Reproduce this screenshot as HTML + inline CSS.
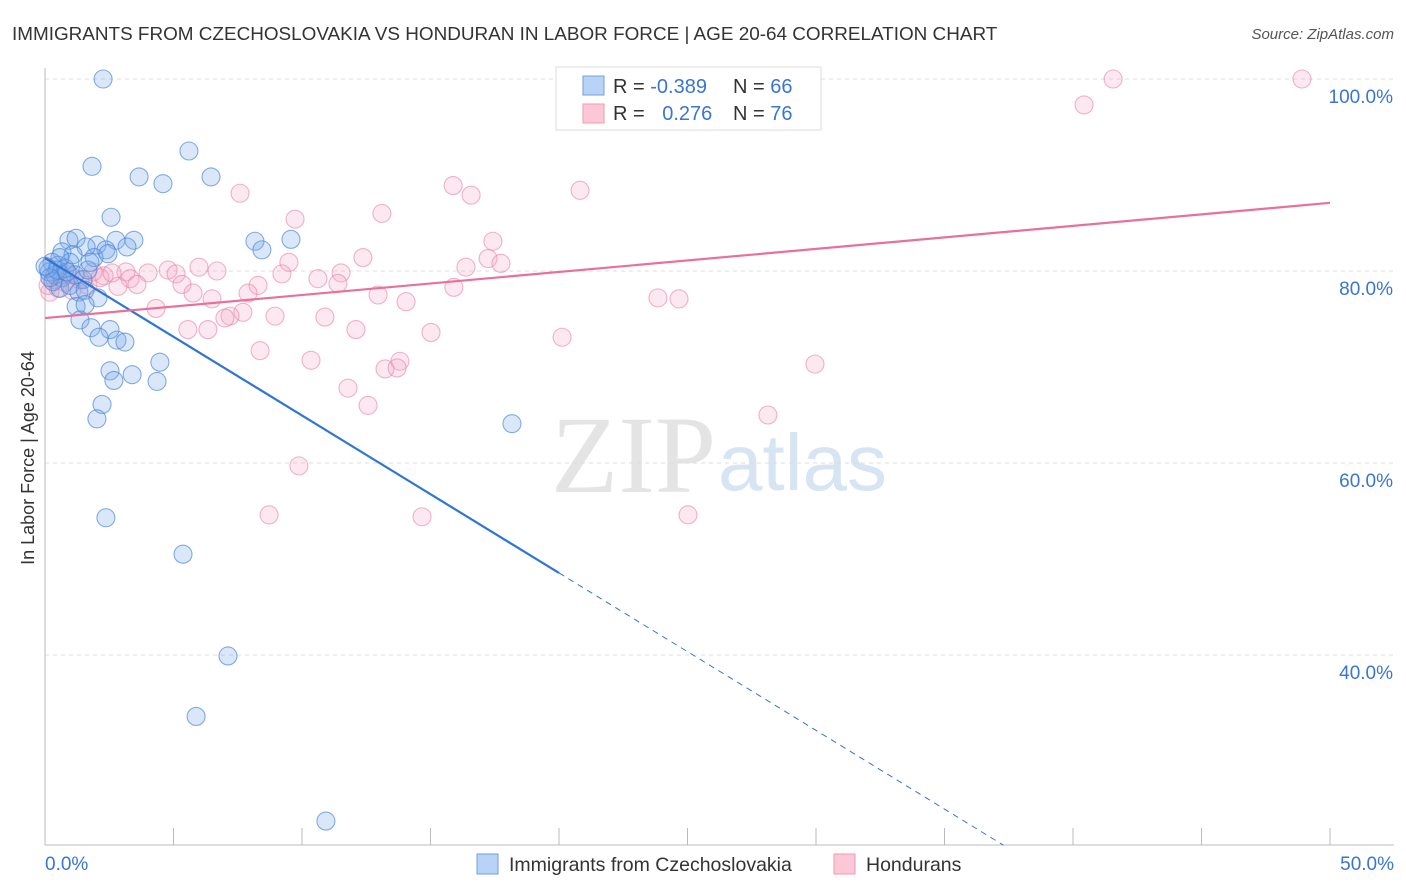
<!DOCTYPE html>
<html><head><meta charset="utf-8"><style>
body{margin:0;background:#fff;font-family:"Liberation Sans",sans-serif;}
svg{display:block}
</style></head><body>
<svg id="chart" width="1406" height="892">
<text x="12" y="40" font-size="18.9" fill="#333">IMMIGRANTS FROM CZECHOSLOVAKIA VS HONDURAN IN LABOR FORCE | AGE 20-64 CORRELATION CHART</text>
<text x="1394" y="39" font-size="15" fill="#555" font-style="italic" text-anchor="end">Source: ZipAtlas.com</text>
<text x="716" y="492" font-size="110" fill="#e4e4e4" text-anchor="end" font-family="Liberation Serif,serif">ZIP</text>
<text x="718" y="490" font-size="80" fill="#d6e4f4">atlas</text>
<text transform="translate(34,458) rotate(-90)" font-size="18" fill="#333" text-anchor="middle">In Labor Force | Age 20-64</text>
<g id="grid"></g><g id="axes"></g><g id="pts"></g><g id="lines"></g>
<g>
<rect x="556" y="67" width="265" height="63" fill="#fff" stroke="#ddd"/>
<rect x="583" y="76" width="21" height="19" fill="#b8d3f5" stroke="#6fa0e0"/>
<rect x="583" y="104" width="21" height="19" fill="#fcc8d8" stroke="#ee9ab5"/>
<text x="613" y="93" font-size="20" fill="#333">R = <tspan fill="#3a75d0">-0.389</tspan></text>
<text x="733" y="93" font-size="20" fill="#333">N = <tspan fill="#3a75d0">66</tspan></text>
<text x="613" y="120" font-size="20" fill="#333">R = <tspan fill="#3a75d0" dx="12">0.276</tspan></text>
<text x="733" y="120" font-size="20" fill="#333">N = <tspan fill="#3a75d0">76</tspan></text>
</g>
<g>
<rect x="477" y="854" width="21" height="20" fill="#b8d3f5" stroke="#6fa0e0"/>
<text x="509" y="871" font-size="19.5" fill="#333">Immigrants from Czechoslovakia</text>
<rect x="834" y="854" width="21" height="20" fill="#fcc8d8" stroke="#ee9ab5"/>
<text x="866" y="871" font-size="19.5" fill="#333">Hondurans</text>
</g>
</svg>
<script>
const xTicks=[0,5,10,15,20,25,30,35,40,45,50];
const yTicks=[40,60,80,100];
const blueX=[2.26,1.83,3.66,4.59,5.60,6.46,2.57,8.17,9.57,8.44,0.93,1.21,2.02,2.76,3.46,3.19,2.37,1.60,0.66,1.09,1.91,2.45,0.27,0.51,0.78,0.97,0.16,0.39,0.66,1.17,1.48,1.67,0.31,0.58,0.97,1.32,1.56,2.06,1.21,1.56,1.36,1.79,2.53,2.10,2.80,3.11,4.47,2.53,2.68,3.39,4.36,2.22,2.02,18.17,2.37,5.37,7.12,5.88,10.93,0.12,0.47,0.86,0.19,0.0,1.75,0.58];
const blueY=[100.0,90.9,89.8,89.1,92.5,89.8,85.6,83.1,83.3,82.2,83.2,83.4,82.7,83.2,83.2,82.5,82.2,82.5,82.0,81.7,81.4,81.8,80.9,80.6,80.3,80.9,79.9,79.6,79.3,79.6,79.1,80.1,78.9,78.2,78.5,77.8,78.0,77.2,76.3,76.5,74.9,74.1,73.9,73.1,72.8,72.6,70.5,69.6,68.6,69.2,68.5,66.1,64.6,64.1,54.3,50.5,39.9,33.6,22.7,80.3,80.1,79.9,79.3,80.5,80.9,81.4];
const pinkX=[41.56,48.91,40.43,27.43,15.88,16.58,20.82,7.59,13.11,9.73,17.43,12.37,17.24,17.74,16.38,9.49,11.52,10.62,9.22,5.99,6.69,4.79,5.10,4.01,3.15,3.31,2.30,1.87,2.84,3.58,8.29,5.33,11.40,15.91,12.96,5.76,7.90,6.50,14.05,23.85,24.67,4.32,7.70,8.95,7.20,7.00,10.89,6.34,5.56,12.10,15.02,20.12,8.37,10.35,13.81,13.23,13.70,29.96,11.79,12.57,28.13,9.88,8.72,14.67,25.02,0.19,0.51,0.78,1.05,1.36,0.66,0.12,0.97,0.39,1.67,2.14,2.61];
const pinkY=[100.0,100.0,97.3,98.1,88.9,87.9,88.4,88.1,86.0,85.4,83.1,81.4,81.3,80.8,80.4,80.9,79.8,79.2,79.7,80.4,80.0,80.1,79.7,79.8,79.9,79.2,79.5,79.9,78.4,78.6,78.5,78.6,78.7,78.3,77.5,77.7,77.7,77.1,76.8,77.2,77.1,76.1,75.7,75.3,75.3,75.1,75.2,73.9,73.9,73.9,73.6,73.1,71.7,70.7,70.6,69.8,69.9,70.3,67.8,66.0,65.0,59.7,54.6,54.4,54.6,77.8,78.2,78.8,78.0,79.1,79.6,78.5,79.6,79.1,78.5,79.3,79.8];
const blueLine=[81.35,-1.64];
const pinkLine=[75.1,0.24];
const blueSolidEnd=20;
const NS='http://www.w3.org/2000/svg';
const sx=v=>45+v*25.7;
const sy=v=>271-(v-80)*9.6;
function mk(tag,attrs,parent){const e=document.createElementNS(NS,tag);for(const k in attrs)e.setAttribute(k,attrs[k]);document.getElementById(parent).appendChild(e);return e;}
yTicks.forEach(t=>{
  const l=mk('line',{x1:45,x2:1394,y1:sy(t),y2:sy(t),stroke:'#ddd','stroke-dasharray':'4,4'},'grid');
  
  
  const tx=mk('text',{x:1393,y:sy(t)+24,'font-size':19,fill:'#3a75d0','text-anchor':'end'},'axes');
  tx.textContent=t.toFixed(1)+'%';
  
  
});
const ax=mk('line',{x1:45,x2:45,y1:68,y2:845,stroke:'#bbb'},'axes');


const bx=mk('line',{x1:45,x2:1394,y1:845,y2:845,stroke:'#bbb'},'axes');


xTicks.forEach(t=>{
  const l=mk('line',{x1:sx(t),x2:sx(t),y1:828,y2:845,stroke:'#bbb'},'axes');
  
  
});
[[0,'0.0%','start',45],[50,'50.0%','end',1394]].forEach(([v,s,a,x])=>{
  const tx=mk('text',{x:x,y:870,'font-size':19,fill:'#3a75d0','text-anchor':a},'axes');
  tx.textContent=s;
  
  
});
pinkX.forEach((x,i)=>{
  const c=mk('circle',{cx:sx(x),cy:sy(pinkY[i]),r:9,fill:'rgba(245,165,195,0.25)',stroke:'rgba(232,130,165,0.6)','stroke-width':1.1},'pts');
  
  
});
blueX.forEach((x,i)=>{
  const c=mk('circle',{cx:sx(x),cy:sy(blueY[i]),r:9,fill:'rgba(120,170,235,0.28)',stroke:'rgba(70,130,215,0.65)','stroke-width':1.1},'pts');
  
  
});
const by=x=>blueLine[0]+blueLine[1]*x;
const xEnd=(20.2-blueLine[0])/blueLine[1];
const b1=mk('line',{x1:sx(0),y1:sy(by(0)),x2:sx(blueSolidEnd),y2:sy(by(blueSolidEnd)),stroke:'#2f75d6','stroke-width':2.2},'lines');


const b2=mk('line',{x1:sx(blueSolidEnd),y1:sy(by(blueSolidEnd)),x2:sx(xEnd),y2:sy(by(xEnd)),stroke:'#2f75d6','stroke-width':1,'stroke-dasharray':'6,5'},'lines');


const p1=mk('line',{x1:sx(0),y1:sy(pinkLine[0]),x2:sx(50),y2:sy(pinkLine[0]+pinkLine[1]*50),stroke:'#e8709a','stroke-width':2.2},'lines');


</script>
</body></html>
